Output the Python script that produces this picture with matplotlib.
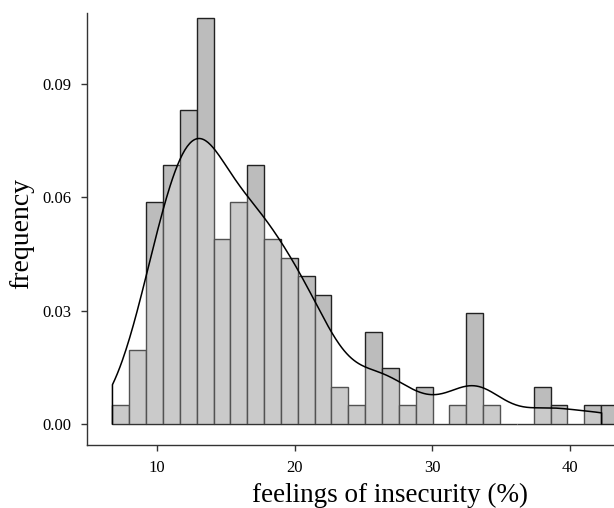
import numpy as np
import matplotlib
matplotlib.use("Agg")
import matplotlib.pyplot as plt

# histogram counts per bin (30 equal bins)
counts = [1, 4, 12, 14, 17, 22, 10, 12, 14, 10, 9, 8, 7, 2, 1,
          5, 3, 1, 2, 0, 1, 6, 1, 0, 0, 2, 1, 0, 1, 1]
bin_start = 6.75
bin_width = 1.2245
data_max = 42.3

x_ticks = [10, 20, 30, 40]
y_ticks = [0.00, 0.03, 0.06, 0.09]
y_tick_labels = ["0.00", "0.03", "0.06", "0.09"]

counts = np.array(counts)
edges = bin_start + bin_width * np.arange(len(counts) + 1)
centers = (edges[:-1] + edges[1:]) / 2

# kernel density estimate from the binned sample (bw.nrd0 style rule)
samples = np.repeat(centers, counts)
q1, q3 = np.percentile(samples, [25, 75])
spread = min(samples.std(ddof=1), (q3 - q1) / 1.34)
bw = 0.9 * spread * len(samples) ** (-0.2)
grid = np.linspace(edges[0], data_max, 400)
kde = np.exp(-0.5 * ((grid[:, None] - samples[None, :]) / bw) ** 2).sum(axis=1)
kde /= len(samples) * bw * np.sqrt(2 * np.pi)

plt.rcParams["font.family"] = ["Liberation Serif", "DejaVu Serif"]

fig = plt.figure(figsize=(6.14, 5.08), dpi=100)
ax = fig.add_axes([87 / 614, 63 / 508, 527 / 614, 432 / 508])

ax.hist(centers, bins=edges, weights=counts, density=True,
        facecolor="#bcbcbc", edgecolor="#222222", linewidth=1.0, zorder=2)
ax.fill_between(grid, 0, kde, color="white", alpha=0.22, linewidth=0, zorder=3)
ax.plot(np.r_[grid[0], grid, grid[-1]], np.r_[0, kde, 0],
        color="black", linewidth=1.1, zorder=4)

ax.set_xlim(4.9, 43.2)
ax.set_ylim(-0.0056, 0.1088)
ax.set_xticks(x_ticks)
ax.set_yticks(y_ticks)
ax.set_yticklabels(y_tick_labels)

for side in ["top", "right"]:
    ax.spines[side].set_visible(False)
for side in ["left", "bottom"]:
    ax.spines[side].set_color("#333333")
    ax.spines[side].set_linewidth(1.0)
ax.tick_params(axis="both", length=4, width=1.0, color="#333333",
               labelsize=12, pad=7)

fig.text(22 / 614, 1 - 233 / 508, "frequency", fontsize=20,
         rotation=90, ha="center", va="center")
fig.text(390 / 614, 6 / 508, "feelings of insecurity (%)", fontsize=19.5,
         ha="center", va="baseline")

fig.savefig("out.png", dpi=100)
